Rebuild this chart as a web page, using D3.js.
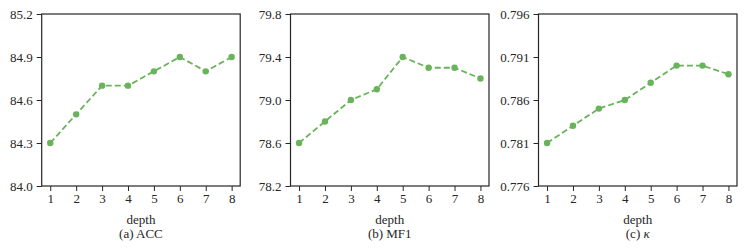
<!DOCTYPE html>
<html>
<head>
<meta charset="utf-8">
<script src="https://cdn.jsdelivr.net/npm/d3@7"></script>
<style>
  body { margin: 0; background: #fff; }
  #chart text { font-family: "Liberation Serif", "Times New Roman", Times, serif !important; fill: #262626; }
</style>
</head>
<body>
<svg id="chart"></svg>
<script>
// data
const depths = [1, 2, 3, 4, 5, 6, 7, 8];
const accValues = [84.3, 84.5, 84.7, 84.7, 84.8, 84.9, 84.8, 84.9];
const mf1Values = [78.6, 78.8, 79.0, 79.1, 79.4, 79.3, 79.3, 79.2];
const kappaValues = [0.781, 0.783, 0.785, 0.786, 0.788, 0.790, 0.790, 0.789];
const accTicks = [84.0, 84.3, 84.6, 84.9, 85.2];
const mf1Ticks = [78.2, 78.6, 79.0, 79.4, 79.8];
const kappaTicks = [0.776, 0.781, 0.786, 0.791, 0.796];
const captions = [["(a) ", "ACC"], ["(b) ", "MF1"], ["(c) ", "\u03ba"]];

const panels = [
  { values: accValues, ticks: accTicks, fmt: d3.format(".1f"), left: 41.7 },
  { values: mf1Values, ticks: mf1Ticks, fmt: d3.format(".1f"), left: 290.5 },
  { values: kappaValues, ticks: kappaTicks, fmt: d3.format(".3f"), left: 538.5 }
];

const W = 745, H = 248;
const plotW = 198.5, plotTop = 14, plotBottom = 186;
const green = "#69b35a";

const svg = d3.select("#chart").attr("width", W).attr("height", H);

panels.forEach((p, i) => {
  const g = svg.append("g").attr("transform", `translate(${p.left},0)`);

  const x = d3.scaleLinear().domain([0.67, 8.33]).range([0, plotW]);
  const y = d3.scaleLinear()
    .domain([p.ticks[0], p.ticks[p.ticks.length - 1]])
    .range([plotBottom, plotTop]);

  const xAxis = d3.axisBottom(x).tickValues(depths).tickSize(5).tickPadding(3).tickSizeOuter(0);
  const yAxis = d3.axisLeft(y).tickValues(p.ticks).tickFormat(p.fmt).tickSize(5).tickPadding(4).tickSizeOuter(0);

  const xg = g.append("g").attr("transform", `translate(0,${plotBottom})`).call(xAxis);
  const yg = g.append("g").call(yAxis);
  [xg, yg].forEach(a => {
    a.attr("font-family", null).attr("font-size", null);
    a.select(".domain").remove();
    a.selectAll("line").attr("stroke", "#262626").attr("stroke-width", 1);
    a.selectAll("text").style("font-size", "13px");
  });

  // frame
  g.append("rect")
    .attr("x", 0).attr("y", plotTop)
    .attr("width", plotW).attr("height", plotBottom - plotTop)
    .attr("fill", "none").attr("stroke", "#262626").attr("stroke-width", 1.2);

  const line = d3.line()
    .x((d, j) => x(depths[j]))
    .y(d => y(d));

  g.append("path")
    .datum(p.values)
    .attr("d", line)
    .attr("fill", "none")
    .attr("stroke", green)
    .attr("stroke-width", 1.8)
    .attr("stroke-dasharray", "6,3");

  g.selectAll("circle.pt")
    .data(p.values)
    .enter().append("circle")
    .attr("class", "pt")
    .attr("cx", (d, j) => x(depths[j]))
    .attr("cy", d => y(d))
    .attr("r", 3.2)
    .attr("fill", green);

  g.append("text")
    .attr("x", plotW / 2).attr("y", 224)
    .attr("text-anchor", "middle")
    .style("font-size", "13px")
    .text("depth");

  const cap = g.append("text")
    .attr("x", plotW / 2).attr("y", 238)
    .attr("text-anchor", "middle")
    .style("font-size", "13px");
  cap.append("tspan").text(captions[i][0]);
  cap.append("tspan").style("font-style", i === 2 ? "italic" : "normal").text(captions[i][1]);
});
</script>
</body>
</html>
